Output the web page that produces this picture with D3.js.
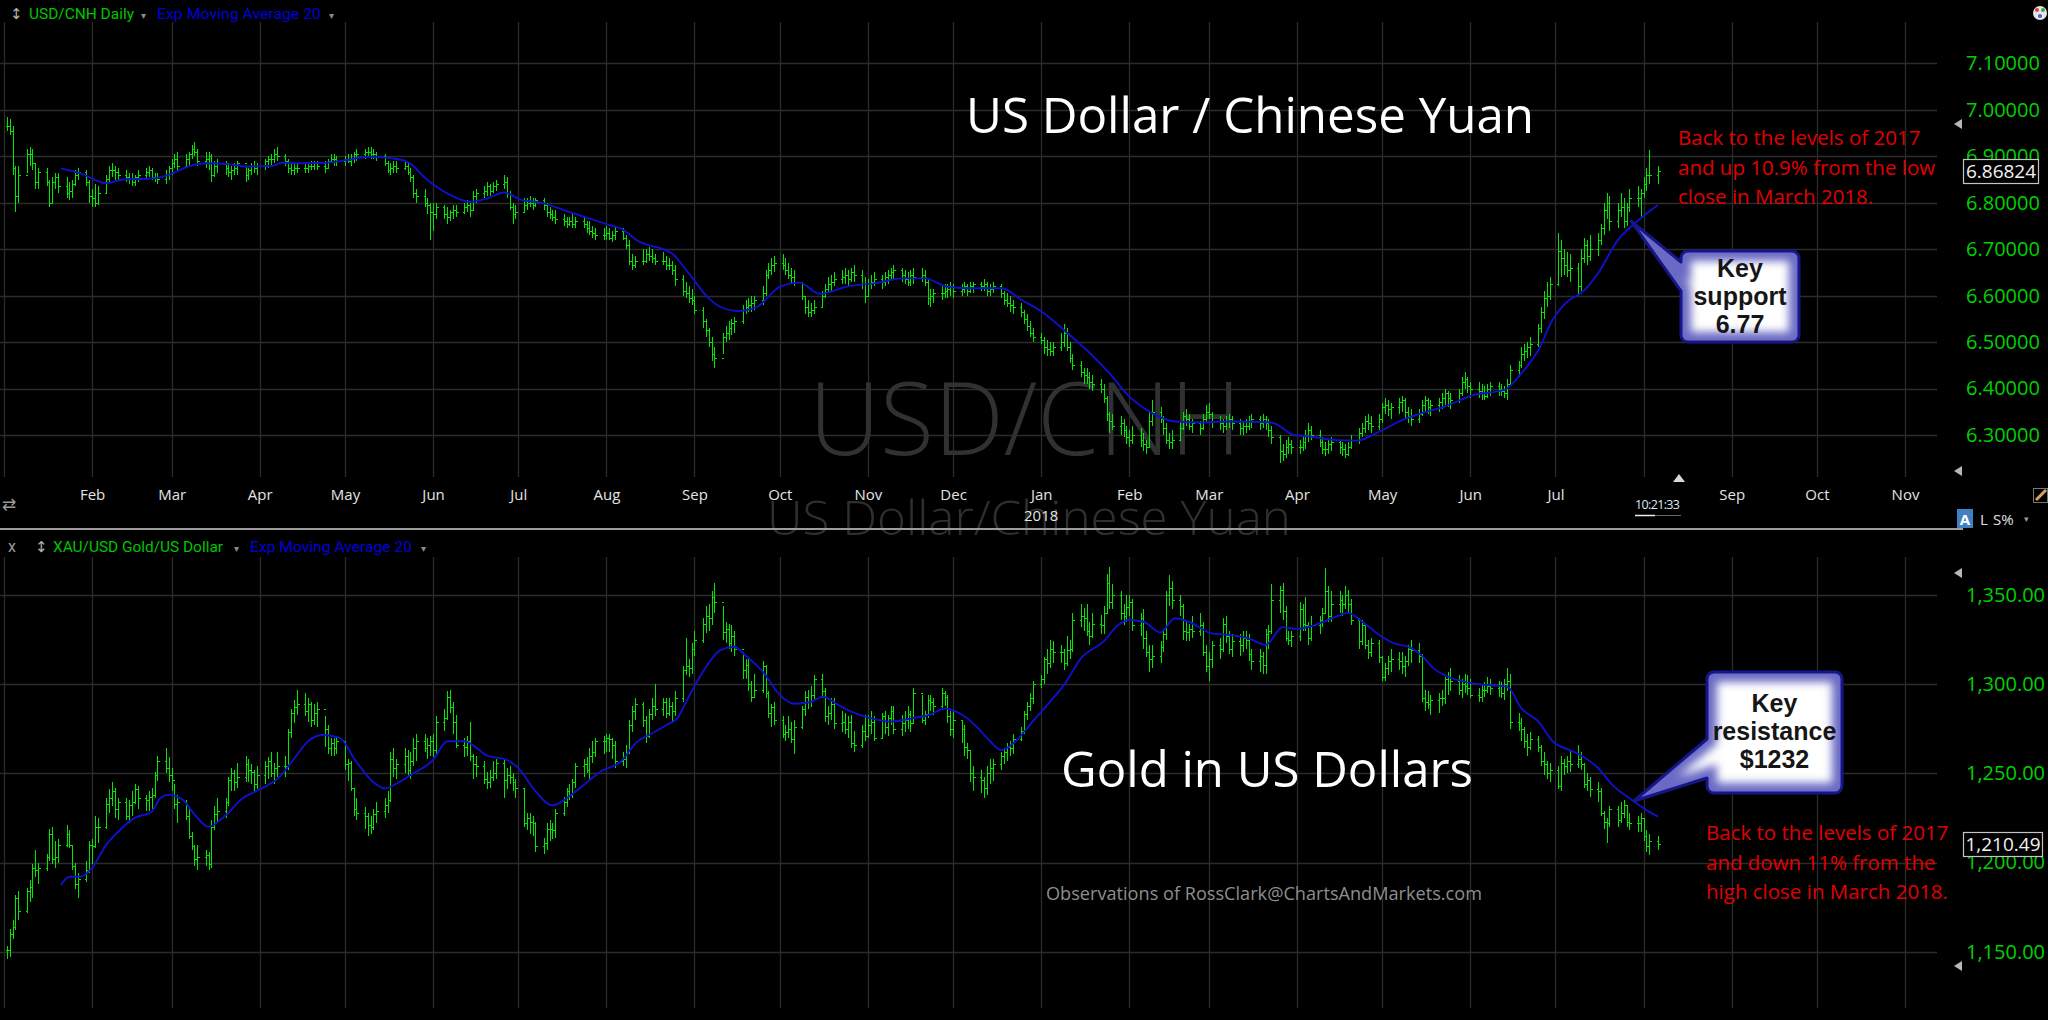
<!DOCTYPE html>
<html>
<head>
<meta charset="utf-8">
<script src="https://cdnjs.cloudflare.com/ajax/libs/d3/7.8.5/d3.min.js"></script>
<style>
html, body { margin: 0; padding: 0; background: #000; overflow: hidden; }
svg { display: block; }
</style>
</head>
<body>
<svg id="chart" width="2048" height="1020"></svg>
<script>

// daily bars, [high, low, close], one row per week (Mon..Fri), Jan 2 2017 .. Aug 6 2018
var usdBars = [
 [6.985,6.955,6.965],[6.98,6.945,6.955],[6.965,6.86,6.875],[6.88,6.78,6.815],[6.88,6.80,6.86],
 [6.915,6.865,6.905],[6.92,6.88,6.905],[6.915,6.87,6.885],[6.885,6.83,6.845],[6.875,6.83,6.865],
 [6.875,6.835,6.845],[6.85,6.79,6.80],[6.855,6.80,6.845],[6.865,6.83,6.855],[6.865,6.82,6.835],
 [6.855,6.81,6.82],[6.845,6.805,6.825],[6.85,6.81,6.84],[6.87,6.835,6.86],[6.875,6.85,6.865],
 [6.87,6.835,6.845],[6.85,6.80,6.815],[6.83,6.79,6.81],[6.84,6.79,6.80],[6.835,6.795,6.82],
 [6.86,6.82,6.85],[6.88,6.845,6.87],[6.885,6.855,6.87],[6.88,6.85,6.865],[6.875,6.85,6.86],
 [6.87,6.845,6.855],[6.865,6.84,6.85],[6.865,6.835,6.845],[6.86,6.835,6.855],[6.87,6.845,6.86],
 [6.875,6.85,6.865],[6.88,6.855,6.87],[6.875,6.85,6.855],[6.865,6.845,6.855],[6.865,6.84,6.85],
 [6.87,6.84,6.86],[6.88,6.85,6.875],[6.895,6.86,6.885],[6.905,6.875,6.895],[6.91,6.87,6.88],
 [6.905,6.875,6.895],[6.91,6.88,6.905],[6.925,6.895,6.915],[6.93,6.90,6.91],[6.915,6.88,6.89],
 [6.91,6.875,6.895],[6.91,6.87,6.90],[6.905,6.845,6.86],[6.89,6.855,6.88],[6.895,6.865,6.885],
 [6.89,6.86,6.875],[6.885,6.855,6.865],[6.88,6.85,6.87],[6.885,6.86,6.875],[6.89,6.86,6.885],
 [6.88,6.845,6.86],[6.875,6.85,6.87],[6.885,6.86,6.88],[6.89,6.865,6.875],[6.885,6.86,6.88],
 [6.895,6.87,6.89],[6.90,6.875,6.895],[6.905,6.88,6.895],[6.915,6.885,6.905],[6.92,6.89,6.90],
 [6.905,6.88,6.89],[6.895,6.865,6.875],[6.885,6.86,6.87],[6.885,6.86,6.875],[6.885,6.865,6.875],
 [6.885,6.865,6.875],[6.885,6.865,6.88],[6.89,6.87,6.88],[6.89,6.87,6.885],[6.89,6.87,6.88],
 [6.89,6.865,6.875],[6.895,6.875,6.89],[6.905,6.885,6.895],[6.905,6.88,6.895],[6.90,6.88,6.89],
 [6.90,6.88,6.895],[6.905,6.885,6.89],[6.905,6.88,6.895],[6.91,6.885,6.905],[6.915,6.89,6.905],
 [6.915,6.895,6.91],[6.92,6.90,6.91],[6.92,6.895,6.905],[6.915,6.895,6.905],[6.91,6.89,6.90],
 [6.905,6.88,6.885],[6.89,6.865,6.87],[6.885,6.86,6.875],[6.89,6.865,6.88],[6.89,6.865,6.875],
 [6.89,6.87,6.88],[6.885,6.86,6.865],[6.875,6.845,6.855],[6.86,6.81,6.82],[6.83,6.80,6.815],
 [6.83,6.79,6.80],[6.81,6.775,6.795],[6.80,6.72,6.78],[6.80,6.74,6.775],[6.80,6.765,6.79],
 [6.795,6.765,6.775],[6.79,6.755,6.77],[6.785,6.76,6.78],[6.795,6.765,6.785],[6.795,6.77,6.78],
 [6.80,6.775,6.79],[6.805,6.78,6.795],[6.80,6.77,6.785],[6.825,6.785,6.815],[6.83,6.80,6.82],
 [6.835,6.81,6.825],[6.845,6.815,6.835],[6.84,6.815,6.825],[6.845,6.82,6.835],[6.85,6.825,6.84],
 [6.86,6.83,6.845],[6.855,6.81,6.82],[6.825,6.785,6.79],[6.80,6.755,6.775],[6.795,6.765,6.78],
 [6.81,6.78,6.795],[6.81,6.785,6.80],[6.815,6.79,6.80],[6.81,6.785,6.795],[6.81,6.79,6.805],
 [6.81,6.785,6.795],[6.80,6.77,6.78],[6.79,6.765,6.775],[6.785,6.76,6.77],[6.785,6.755,6.765],
 [6.775,6.75,6.76],[6.77,6.745,6.755],[6.77,6.75,6.76],[6.775,6.745,6.755],[6.77,6.745,6.76],
 [6.77,6.745,6.755],[6.76,6.735,6.745],[6.76,6.73,6.74],[6.75,6.725,6.735],[6.745,6.72,6.73],
 [6.745,6.72,6.73],[6.75,6.72,6.735],[6.745,6.72,6.725],[6.74,6.715,6.73],[6.75,6.72,6.74],
 [6.745,6.72,6.725],[6.73,6.70,6.71],[6.72,6.665,6.675],[6.69,6.655,6.665],[6.685,6.66,6.675],
 [6.70,6.665,6.675],[6.70,6.67,6.69],[6.705,6.675,6.685],[6.70,6.67,6.68],[6.69,6.665,6.675],
 [6.695,6.665,6.675],[6.685,6.655,6.665],[6.68,6.655,6.665],[6.675,6.645,6.655],[6.665,6.62,6.635],
 [6.645,6.60,6.61],[6.63,6.595,6.605],[6.62,6.585,6.595],[6.615,6.58,6.59],[6.60,6.56,6.57],
 [6.575,6.53,6.545],[6.55,6.51,6.525],[6.53,6.49,6.50],[6.51,6.46,6.475],[6.49,6.444,6.465],
 [6.52,6.475,6.51],[6.535,6.50,6.52],[6.545,6.505,6.53],[6.55,6.515,6.54],[6.555,6.52,6.545],
 [6.58,6.54,6.57],[6.59,6.56,6.575],[6.595,6.565,6.58],[6.60,6.565,6.585],[6.60,6.57,6.59],
 [6.62,6.58,6.605],[6.655,6.60,6.645],[6.67,6.635,6.655],[6.68,6.645,6.665],[6.685,6.65,6.67],
 [6.69,6.655,6.665],[6.68,6.645,6.655],[6.67,6.635,6.645],[6.66,6.625,6.64],[6.655,6.62,6.63],
 [6.63,6.59,6.60],[6.60,6.56,6.575],[6.59,6.555,6.565],[6.585,6.555,6.57],[6.59,6.56,6.575],
 [6.61,6.575,6.60],[6.625,6.595,6.615],[6.64,6.605,6.625],[6.645,6.61,6.63],[6.65,6.62,6.635],
 [6.655,6.625,6.64],[6.66,6.625,6.645],[6.655,6.62,6.635],[6.66,6.63,6.65],[6.665,6.63,6.645],
 [6.655,6.615,6.625],[6.64,6.585,6.60],[6.635,6.60,6.625],[6.645,6.615,6.63],[6.65,6.62,6.635],
 [6.645,6.615,6.63],[6.65,6.62,6.64],[6.655,6.625,6.645],[6.66,6.635,6.65],[6.665,6.635,6.655],
 [6.66,6.63,6.645],[6.655,6.625,6.635],[6.65,6.62,6.63],[6.655,6.62,6.645],[6.66,6.625,6.64],
 [6.66,6.63,6.645],[6.655,6.62,6.63],[6.635,6.58,6.595],[6.615,6.575,6.60],[6.615,6.585,6.605],
 [6.62,6.59,6.605],[6.625,6.595,6.61],[6.625,6.595,6.615],[6.63,6.60,6.62],[6.625,6.595,6.61],
 [6.625,6.60,6.615],[6.63,6.605,6.62],[6.625,6.60,6.61],[6.63,6.605,6.62],[6.63,6.605,6.625],
 [6.63,6.61,6.62],[6.635,6.61,6.625],[6.63,6.60,6.61],[6.625,6.60,6.615],[6.63,6.605,6.62],
 [6.625,6.595,6.605],[6.61,6.58,6.59],[6.605,6.575,6.585],[6.60,6.565,6.58],[6.59,6.56,6.575],
 [6.585,6.555,6.565],[6.57,6.54,6.55],[6.56,6.525,6.535],[6.545,6.51,6.52],[6.53,6.50,6.51],
 [6.52,6.495,6.505],[6.51,6.475,6.49],[6.505,6.47,6.485],[6.50,6.47,6.48],[6.50,6.47,6.49],
 [6.52,6.48,6.50],[6.54,6.49,6.52],[6.53,6.48,6.49],[6.50,6.455,6.465],[6.475,6.44,6.45],
 [6.46,6.425,6.435],[6.445,6.41,6.43],[6.445,6.41,6.425],[6.435,6.40,6.415],[6.43,6.395,6.41],
 [6.42,6.39,6.40],[6.41,6.37,6.38],[6.385,6.33,6.345],[6.35,6.305,6.33],[6.345,6.31,6.32],
 [6.34,6.30,6.325],[6.335,6.295,6.31],[6.32,6.28,6.295],[6.31,6.275,6.29],[6.32,6.28,6.30],
 [6.315,6.275,6.29],[6.305,6.265,6.28],[6.29,6.26,6.275],[6.35,6.275,6.33],[6.375,6.32,6.35],
 [6.36,6.325,6.335],[6.34,6.30,6.315],[6.325,6.28,6.29],[6.305,6.27,6.285],[6.31,6.27,6.29],
 [6.33,6.29,6.315],[6.35,6.31,6.34],[6.355,6.32,6.335],[6.345,6.31,6.32],[6.335,6.305,6.325],
 [6.33,6.30,6.315],[6.345,6.31,6.335],[6.365,6.325,6.35],[6.37,6.335,6.345],[6.35,6.315,6.33],
 [6.34,6.31,6.325],[6.335,6.305,6.32],[6.34,6.31,6.33],[6.345,6.315,6.335],[6.34,6.31,6.325],
 [6.335,6.30,6.315],[6.33,6.30,6.32],[6.335,6.305,6.32],[6.34,6.31,6.33],[6.345,6.315,6.335],
 [6.34,6.31,6.325],[6.345,6.315,6.335],[6.34,6.31,6.325],[6.335,6.295,6.31],[6.32,6.28,6.295],
 [6.30,6.24,6.265],[6.28,6.245,6.26],[6.29,6.25,6.275],[6.295,6.26,6.28],[6.29,6.26,6.275],
 [6.29,6.26,6.275],[6.295,6.265,6.285],[6.31,6.27,6.30],[6.325,6.285,6.31],[6.32,6.29,6.30],
 [6.31,6.275,6.285],[6.295,6.26,6.27],[6.285,6.255,6.27],[6.29,6.26,6.28],[6.295,6.265,6.285],
 [6.29,6.26,6.275],[6.285,6.255,6.27],[6.28,6.25,6.26],[6.285,6.255,6.275],[6.30,6.27,6.29],
 [6.315,6.28,6.305],[6.325,6.295,6.315],[6.34,6.305,6.33],[6.345,6.31,6.325],[6.34,6.305,6.32],
 [6.345,6.31,6.335],[6.37,6.325,6.36],[6.38,6.345,6.365],[6.375,6.34,6.355],[6.37,6.335,6.36],
 [6.38,6.345,6.37],[6.385,6.35,6.375],[6.38,6.335,6.35],[6.36,6.325,6.34],[6.355,6.32,6.335],
 [6.355,6.325,6.345],[6.375,6.34,6.365],[6.385,6.35,6.375],[6.38,6.345,6.36],[6.375,6.34,6.365],
 [6.38,6.35,6.37],[6.39,6.355,6.38],[6.40,6.365,6.39],[6.395,6.36,6.38],[6.39,6.355,6.375],
 [6.40,6.37,6.39],[6.425,6.385,6.415],[6.435,6.40,6.42],[6.425,6.39,6.405],[6.415,6.38,6.40],
 [6.415,6.38,6.395],[6.41,6.375,6.39],[6.405,6.375,6.385],[6.41,6.38,6.40],[6.415,6.385,6.405],
 [6.415,6.385,6.40],[6.41,6.385,6.395],[6.405,6.38,6.39],[6.42,6.375,6.41],[6.45,6.405,6.44],
 [6.46,6.425,6.45],[6.49,6.445,6.475],[6.495,6.46,6.48],[6.50,6.465,6.49],[6.51,6.47,6.495],
 [6.54,6.49,6.53],[6.575,6.52,6.565],[6.61,6.55,6.595],[6.63,6.575,6.60],[6.64,6.59,6.625],
 [6.735,6.62,6.695],[6.72,6.64,6.68],[6.70,6.645,6.665],[6.695,6.64,6.655],[6.69,6.63,6.66],
 [6.67,6.60,6.62],[6.70,6.61,6.68],[6.725,6.67,6.71],[6.72,6.665,6.685],[6.73,6.675,6.70],
 [6.735,6.685,6.72],[6.755,6.71,6.745],[6.80,6.73,6.785],[6.82,6.765,6.80],[6.815,6.74,6.76],
 [6.80,6.745,6.785],[6.82,6.77,6.79],[6.81,6.745,6.76],[6.80,6.75,6.79],[6.83,6.78,6.81],
 [6.835,6.79,6.81],[6.83,6.77,6.82],[6.855,6.81,6.84],[6.875,6.825,6.86],[6.913,6.84,6.86],
 [6.88,6.84,6.86824]
];

var goldBars = [
 [1153,1146,1151],[1163,1147,1160],[1168,1157,1164],[1182,1162,1180],[1184,1168,1173],
 [1186,1172,1184],[1190,1178,1186],[1199,1180,1197],[1207,1192,1196],[1200,1188,1197],
 [1205,1195,1203],[1219,1201,1216],[1220,1199,1202],[1212,1197,1203],[1213,1200,1210],
 [1221,1209,1216],[1218,1208,1210],[1210,1196,1198],[1200,1185,1188],[1194,1180,1191],
 [1201,1189,1196],[1212,1194,1210],[1213,1199,1209],[1226,1208,1220],[1225,1211,1220],
 [1236,1219,1233],[1241,1228,1236],[1245,1232,1240],[1242,1225,1230],[1236,1224,1234],
 [1236,1224,1226],[1235,1222,1232],[1240,1226,1234],[1244,1233,1241],[1243,1230,1236],
 [1238,1229,1235],[1240,1229,1237],[1242,1230,1238],[1251,1236,1249],[1260,1246,1257],
 [1264,1250,1253],[1259,1245,1249],[1253,1240,1246],[1244,1230,1233],[1238,1222,1234],
 [1235,1224,1226],[1230,1213,1215],[1217,1207,1209],[1210,1198,1202],[1210,1196,1203],
 [1207,1198,1204],[1206,1196,1199],[1224,1197,1220],[1232,1218,1227],[1236,1223,1229],
 [1236,1225,1234],[1248,1232,1246],[1253,1240,1250],[1252,1240,1245],[1256,1242,1248],
 [1260,1245,1255],[1258,1245,1252],[1255,1244,1251],[1252,1240,1244],[1254,1241,1249],
 [1257,1244,1254],[1259,1247,1257],[1262,1248,1250],[1256,1244,1253],[1262,1248,1254],
 [1260,1248,1254],[1275,1252,1273],[1286,1270,1284],[1291,1278,1287],[1297,1283,1289],
 [1295,1282,1285],[1292,1279,1289],[1290,1276,1280],[1289,1277,1284],[1290,1276,1286],
 [1282,1265,1275],[1277,1261,1264],[1270,1260,1267],[1270,1260,1264],[1271,1261,1268],
 [1268,1252,1255],[1258,1246,1256],[1257,1240,1242],[1242,1226,1230],[1236,1224,1228],
 [1231,1219,1226],[1228,1215,1221],[1226,1216,1220],[1230,1218,1227],[1234,1222,1229],
 [1236,1225,1232],[1240,1228,1235],[1262,1234,1258],[1264,1248,1253],[1258,1247,1255],
 [1264,1250,1260],[1263,1248,1252],[1262,1247,1257],[1270,1254,1264],[1272,1257,1268],
 [1272,1262,1264],[1270,1258,1266],[1271,1260,1268],[1272,1259,1263],[1282,1261,1279],
 [1286,1274,1281],[1296,1280,1293],[1297,1284,1287],[1290,1272,1279],[1283,1264,1266],
 [1270,1259,1265],[1271,1260,1268],[1279,1257,1260],[1261,1247,1255],[1260,1248,1254],
 [1257,1244,1247],[1251,1241,1245],[1252,1242,1248],[1257,1246,1250],[1258,1247,1256],
 [1258,1236,1246],[1253,1241,1249],[1254,1244,1248],[1250,1240,1245],[1247,1236,1242],
 [1242,1220,1222],[1228,1218,1225],[1228,1216,1223],[1226,1215,1222],[1223,1206,1209],
 [1214,1205,1211],[1222,1207,1219],[1224,1212,1219],[1222,1213,1218],[1230,1214,1228],
 [1237,1226,1234],[1242,1231,1240],[1244,1235,1238],[1247,1236,1245],[1256,1242,1254],
 [1258,1248,1255],[1259,1250,1252],[1264,1247,1260],[1268,1256,1262],[1270,1259,1268],
 [1271,1261,1268],[1272,1262,1270],[1272,1262,1269],[1270,1258,1266],[1268,1253,1257],
 [1262,1254,1258],[1266,1253,1262],[1280,1261,1277],[1288,1273,1285],[1292,1280,1289],
 [1290,1276,1280],[1282,1267,1271],[1286,1270,1283],[1292,1280,1288],[1300,1282,1286],
 [1292,1282,1290],[1292,1281,1284],[1292,1282,1288],[1290,1279,1285],[1296,1282,1292],
 [1310,1290,1308],[1326,1305,1310],[1314,1304,1309],[1323,1306,1320],[1330,1316,1325],
 [1337,1323,1334],[1344,1329,1338],[1345,1330,1337],[1352,1333,1349],[1357,1340,1346],
 [1344,1325,1329],[1335,1323,1331],[1334,1320,1323],[1333,1318,1327],[1330,1316,1320],
 [1318,1303,1308],[1314,1303,1311],[1314,1296,1300],[1302,1290,1293],[1306,1292,1297],
 [1313,1295,1310],[1311,1292,1295],[1296,1281,1284],[1289,1276,1287],[1290,1277,1280],
 [1282,1270,1272],[1277,1268,1273],[1282,1270,1275],[1279,1267,1269],[1280,1261,1276],
 [1288,1275,1286],[1296,1282,1293],[1297,1286,1290],[1299,1287,1294],[1305,1291,1303],
 [1306,1292,1296],[1298,1279,1282],[1288,1277,1284],[1292,1280,1289],[1292,1275,1278],
 [1285,1273,1279],[1284,1272,1275],[1282,1270,1279],[1283,1264,1267],[1274,1262,1266],
 [1277,1264,1274],[1283,1268,1271],[1283,1270,1277],[1285,1272,1279],[1282,1268,1270],
 [1284,1270,1282],[1285,1272,1276],[1283,1271,1281],[1288,1277,1285],[1288,1272,1275],
 [1283,1271,1278],[1285,1273,1280],[1288,1275,1283],[1285,1273,1278],[1298,1278,1295],
 [1294,1278,1280],[1285,1277,1283],[1294,1281,1291],[1294,1285,1290],[1292,1283,1288],
 [1298,1286,1295],[1296,1288,1293],[1294,1278,1282],[1285,1271,1275],[1285,1270,1280],
 [1280,1267,1275],[1277,1260,1265],[1267,1258,1263],[1263,1245,1250],[1254,1240,1248],
 [1252,1239,1246],[1248,1236,1242],[1254,1238,1250],[1258,1244,1253],[1258,1246,1255],
 [1262,1252,1260],[1264,1255,1262],[1267,1257,1265],[1268,1260,1264],[1272,1261,1269],
 [1276,1268,1274],[1285,1272,1283],[1290,1280,1288],[1295,1285,1292],[1302,1289,1300],
 [1305,1298,1303],[1315,1300,1314],[1320,1306,1312],[1325,1309,1320],[1324,1312,1318],
 [1322,1312,1318],[1320,1308,1312],[1327,1310,1319],[1325,1314,1320],[1340,1318,1336],
 [1345,1332,1338],[1343,1330,1337],[1345,1327,1330],[1335,1322,1327],[1340,1326,1334],
 [1339,1328,1333],[1344,1328,1340],[1362,1340,1357],[1366,1342,1346],[1356,1342,1350],
 [1352,1336,1340],[1345,1333,1338],[1350,1335,1343],[1350,1338,1346],[1348,1330,1333],
 [1340,1327,1337],[1342,1320,1326],[1330,1315,1318],[1322,1307,1314],[1322,1309,1316],
 [1324,1312,1321],[1331,1318,1328],[1352,1325,1350],[1361,1344,1354],[1358,1342,1347],
 [1350,1338,1344],[1345,1325,1330],[1335,1324,1329],[1334,1324,1331],[1338,1326,1330],
 [1340,1327,1333],[1335,1316,1318],[1322,1307,1310],[1318,1302,1314],[1324,1309,1322],
 [1326,1314,1320],[1337,1318,1334],[1338,1323,1327],[1330,1317,1320],[1328,1315,1324],
 [1328,1316,1322],[1330,1318,1326],[1330,1320,1325],[1328,1313,1317],[1320,1308,1313],
 [1320,1307,1316],[1318,1306,1311],[1331,1306,1328],[1333,1320,1330],[1356,1328,1347],
 [1355,1340,1353],[1357,1336,1341],[1344,1324,1326],[1330,1322,1325],[1330,1321,1327],
 [1346,1324,1342],[1345,1330,1334],[1349,1330,1333],[1335,1322,1326],[1338,1324,1333],
 [1338,1328,1336],[1343,1332,1340],[1365,1340,1352],[1355,1335,1338],[1352,1335,1345],
 [1352,1340,1347],[1350,1338,1345],[1355,1342,1350],[1353,1340,1345],[1348,1333,1336],
 [1337,1320,1324],[1336,1322,1333],[1333,1320,1322],[1325,1314,1318],[1326,1315,1323],
 [1325,1312,1315],[1316,1302,1304],[1312,1302,1309],[1316,1305,1313],[1320,1307,1314],
 [1318,1308,1313],[1318,1306,1310],[1316,1304,1313],[1322,1310,1320],[1325,1312,1319],
 [1323,1312,1316],[1317,1290,1292],[1297,1285,1290],[1296,1286,1289],[1294,1283,1291],
 [1295,1284,1292],[1297,1288,1292],[1304,1289,1303],[1307,1294,1304],[1309,1296,1302],
 [1305,1294,1297],[1303,1292,1300],[1306,1295,1299],[1305,1294,1298],[1303,1292,1294],
 [1298,1290,1293],[1300,1290,1297],[1301,1293,1297],[1304,1295,1299],[1303,1294,1298],
 [1302,1293,1299],[1301,1292,1295],[1303,1291,1300],[1309,1296,1302],[1306,1275,1279],
 [1284,1274,1278],[1281,1268,1275],[1276,1264,1268],[1272,1260,1265],[1273,1263,1269],
 [1271,1262,1265],[1266,1254,1257],[1262,1249,1255],[1257,1247,1250],[1256,1245,1252],
 [1254,1241,1243],[1260,1240,1256],[1258,1249,1254],[1260,1250,1257],[1263,1251,1255],
 [1266,1253,1258],[1262,1252,1255],[1256,1242,1244],[1250,1240,1246],[1248,1237,1241],
 [1245,1234,1240],[1242,1226,1228],[1229,1219,1223],[1225,1211,1222],[1232,1220,1230],
 [1232,1220,1224],[1234,1222,1228],[1235,1225,1232],[1232,1220,1223],[1228,1218,1222],
 [1226,1217,1222],[1228,1217,1225],[1225,1212,1215],[1218,1206,1209],[1216,1204,1212],
 [1215,1207,1210.49]
];

// 20 day exponential moving average
var usdEma = [
 ["2017-01-21",6.874],["2017-01-28",6.863],["2017-02-06",6.842],["2017-02-12",6.850],["2017-02-22",6.852],
 ["2017-02-28",6.860],["2017-03-07",6.878],["2017-03-13",6.885],["2017-03-21",6.883],["2017-03-28",6.878],
 ["2017-04-05",6.879],["2017-04-09",6.886],["2017-04-16",6.885],["2017-04-24",6.886],["2017-05-02",6.892],
 ["2017-05-09",6.899],["2017-05-17",6.896],["2017-05-23",6.888],["2017-05-30",6.849],["2017-06-07",6.817],
 ["2017-06-14",6.802],["2017-06-20",6.809],["2017-06-26",6.822],["2017-07-02",6.806],["2017-07-09",6.800],
 ["2017-07-17",6.784],["2017-07-24",6.770],["2017-08-01",6.754],["2017-08-07",6.741],["2017-08-12",6.718],
 ["2017-08-24",6.691],["2017-08-30",6.648],["2017-09-06",6.594],["2017-09-10",6.576],["2017-09-16",6.567],
 ["2017-09-23",6.576],["2017-10-01",6.619],["2017-10-08",6.628],["2017-10-15",6.604],["2017-10-25",6.620],
 ["2017-11-04",6.627],["2017-11-13",6.637],["2017-11-21",6.637],["2017-11-29",6.619],["2017-12-06",6.616],
 ["2017-12-18",6.616],["2017-12-25",6.591],["2018-01-02",6.562],["2018-01-09",6.526],["2018-01-17",6.483],
 ["2018-01-25",6.433],["2018-02-01",6.383],["2018-02-09",6.347],["2018-02-17",6.329],["2018-02-26",6.327],
 ["2018-03-08",6.329],["2018-03-23",6.327],["2018-03-31",6.300],["2018-04-05",6.297],["2018-04-15",6.289],
 ["2018-04-22",6.288],["2018-04-30",6.307],["2018-05-08",6.332],["2018-05-15",6.347],["2018-05-23",6.361],
 ["2018-06-02",6.386],["2018-06-13",6.397],["2018-06-19",6.433],["2018-06-25",6.483],["2018-06-30",6.548],
 ["2018-07-06",6.591],["2018-07-10",6.605],["2018-07-16",6.648],["2018-07-23",6.720],["2018-07-29",6.756],
 ["2018-08-06",6.795]
];

var goldEma = [
 ["2017-01-21",1187.4],["2017-01-24",1192],["2017-01-28",1192],["2017-02-01",1197],["2017-02-06",1210],
 ["2017-02-10",1217],["2017-02-16",1225],["2017-02-22",1228.5],["2017-02-25",1236],["2017-02-28",1238],
 ["2017-03-05",1235],["2017-03-09",1227],["2017-03-14",1220],["2017-03-19",1225],["2017-03-26",1236],
 ["2017-04-01",1241],["2017-04-08",1248],["2017-04-13",1258],["2017-04-18",1268],["2017-04-23",1271.5],
 ["2017-04-29",1270],["2017-05-05",1256.5],["2017-05-11",1245],["2017-05-15",1241.6],["2017-05-20",1245],
 ["2017-05-24",1249],["2017-06-01",1257.5],["2017-06-06",1268],["2017-06-12",1268],["2017-06-20",1260],
 ["2017-06-27",1257.5],["2017-07-01",1253],["2017-07-07",1240],["2017-07-13",1232],["2017-07-18",1236],
 ["2017-07-24",1243.5],["2017-07-30",1251],["2017-08-06",1256.5],["2017-08-12",1268],["2017-08-16",1271.5],
 ["2017-08-22",1277],["2017-08-26",1281],["2017-08-29",1290],["2017-09-04",1307],["2017-09-10",1319],
 ["2017-09-15",1321],["2017-09-19",1316],["2017-09-25",1307],["2017-10-01",1294],["2017-10-06",1289],
 ["2017-10-12",1290],["2017-10-16",1293],["2017-10-22",1288],["2017-10-25",1285.5],["2017-11-02",1281],
 ["2017-11-09",1279],["2017-11-17",1281],["2017-11-23",1283],["2017-11-28",1286.4],["2017-12-04",1283],
 ["2017-12-10",1275],["2017-12-14",1268],["2017-12-18",1263],["2017-12-23",1268],["2017-12-29",1279],
 ["2018-01-04",1290],["2018-01-09",1299.5],["2018-01-15",1314.5],["2018-01-23",1324],["2018-01-28",1333],
 ["2018-02-01",1336],["2018-02-06",1335],["2018-02-12",1329],["2018-02-17",1337],["2018-02-22",1335],
 ["2018-03-02",1328.5],["2018-03-08",1327.6],["2018-03-15",1325.7],["2018-03-21",1322],["2018-03-27",1332],
 ["2018-04-01",1331],["2018-04-07",1333],["2018-04-15",1338],["2018-04-19",1340],["2018-04-24",1335],
 ["2018-04-30",1327.6],["2018-05-05",1323],["2018-05-11",1320.5],["2018-05-15",1316],["2018-05-19",1309],
 ["2018-05-23",1305],["2018-05-31",1301],["2018-06-07",1299.5],["2018-06-14",1298.6],["2018-06-19",1286.4],
 ["2018-06-25",1279],["2018-06-30",1268],["2018-07-06",1263],["2018-07-10",1260],["2018-07-16",1253],
 ["2018-07-21",1243.5],["2018-07-27",1236],["2018-08-02",1229.4],["2018-08-06",1225.7]
];

var usdTicks = [6.3, 6.4, 6.5, 6.6, 6.7, 6.8, 6.9, 7.0, 7.1];
var goldTicks = [1150, 1200, 1250, 1300, 1350];

var usdNote = ["Back to the levels of 2017", "and up 10.9% from the low", "close in March 2018."];
var goldNote = ["Back to the levels of 2017", "and down 11% from the", "high close in March 2018."];


var FONT = "'Open Sans', 'Noto Sans', sans-serif";
var parse = d3.utcParse("%Y-%m-%d");
var svg = d3.select("#chart");
var defs = svg.append("defs");

svg.append("rect").attr("width", 2048).attr("height", 1020).attr("fill", "#000");

var tradingDays = d3.utcDay.range(new Date(Date.UTC(2017, 0, 2)), new Date(Date.UTC(2018, 7, 7)))
    .filter(function(d){ var w = d.getUTCDay(); return w > 0 && w < 6; });

var x = d3.scaleUtc()
    .domain([new Date(Date.UTC(2017, 0, 1)), new Date(Date.UTC(2018, 10, 1))])
    .range([4, 1905]);
var yTop = d3.scaleLinear().domain([6.3, 7.1]).range([435, 63.3]);
var yBot = d3.scaleLinear().domain([1150, 1350]).range([951.7, 595]);

var months = d3.utcMonth.range(new Date(Date.UTC(2017, 0, 1)), new Date(Date.UTC(2018, 10, 2)));

// grid
[[yTop, usdTicks, 22, 477], [yBot, goldTicks, 557, 1008]].forEach(function(p){
    var g = svg.append("g").attr("stroke", "#2c2c2c").attr("stroke-width", 1.3);
    g.selectAll("line.v").data(months).join("line").attr("class", "v")
        .attr("x1", function(d){ return Math.round(x(d)) + 0.5; })
        .attr("x2", function(d){ return Math.round(x(d)) + 0.5; })
        .attr("y1", p[2]).attr("y2", p[3]);
    g.selectAll("line.h").data(p[1]).join("line").attr("class", "h")
        .attr("x1", 0).attr("x2", 1937)
        .attr("y1", function(d){ return Math.round(p[0](d)) + 0.5; })
        .attr("y2", function(d){ return Math.round(p[0](d)) + 0.5; });
});

// watermarks
svg.append("text").attr("x", 809).attr("y", 455).attr("font-family", FONT).attr("font-weight", 300)
    .attr("font-size", 101).attr("fill", "#313131").attr("textLength", 432).attr("lengthAdjust", "spacingAndGlyphs")
    .text("USD/CNH");
svg.append("text").attr("x", 767).attr("y", 535).attr("font-family", FONT).attr("font-weight", 300)
    .attr("font-size", 47).attr("fill", "#2f2f2f").attr("textLength", 524).attr("lengthAdjust", "spacingAndGlyphs")
    .text("US Dollar/Chinese Yuan");

// OHLC bars, open tick at the previous close
function drawBars(bars, y) {
    var rows = bars.slice(0, tradingDays.length).map(function(b, i){
        return { date: tradingDays[i], hi: b[0], lo: b[1], cl: b[2], op: i ? bars[i - 1][2] : b[2] };
    });
    svg.append("g").attr("stroke", "#00e800").attr("stroke-width", 1).attr("fill", "none")
        .attr("shape-rendering", "crispEdges")
        .selectAll("path").data(rows).join("path")
        .attr("d", function(d){
            var px = Math.round(x(d.date)) + 0.5;
            var yo = Math.round(y(d.op)) + 0.5, yc = Math.round(y(d.cl)) + 0.5;
            return "M" + px + "," + y(d.hi).toFixed(1) + "V" + y(d.lo).toFixed(1) +
                "M" + (px - 2) + "," + yo + "H" + px + "M" + px + "," + yc + "H" + (px + 2);
        });
}
drawBars(usdBars, yTop);
drawBars(goldBars, yBot);

function drawEma(data, y) {
    var line = d3.line()
        .x(function(d){ return x(parse(d[0])); })
        .y(function(d){ return y(d[1]); })
        .curve(d3.curveMonotoneX);
    svg.append("path").datum(data).attr("d", line)
        .attr("fill", "none").attr("stroke", "#1010cc").attr("stroke-width", 1.9);
}
drawEma(usdEma, yTop);
drawEma(goldEma, yBot);

// price axes
function priceAxis(y, ticks, fmt) {
    var g = svg.append("g").attr("transform", "translate(1966,0)")
        .call(d3.axisRight(y).tickValues(ticks).tickFormat(fmt).tickSize(0).tickPadding(0));
    g.select(".domain").remove();
    g.attr("font-family", FONT).attr("font-size", 20).style("color", "#00d000");
}
priceAxis(yTop, usdTicks, d3.format(".5f"));
priceAxis(yBot, goldTicks, d3.format(",.2f"));

// month axis (Jan 2017 sits on the edge, Aug 2018 is under the clock)
var labelMonths = months.filter(function(d, i){
    return i > 0 && !(d.getUTCFullYear() === 2018 && d.getUTCMonth() === 7);
});
var mAxis = svg.append("g").attr("transform", "translate(0,477)")
    .call(d3.axisBottom(x).tickValues(labelMonths).tickFormat(d3.utcFormat("%b")).tickSize(0).tickPadding(12));
mAxis.select(".domain").remove();
mAxis.attr("font-family", FONT).attr("font-size", 15).style("color", "#e4e4e4");
svg.append("text").attr("x", x(new Date(Date.UTC(2018, 0, 1)))).attr("y", 521).attr("text-anchor", "middle")
    .attr("font-family", FONT).attr("font-size", 15).attr("fill", "#e4e4e4").text("2018");

// clock
svg.append("text").attr("x", 1635).attr("y", 509).attr("font-family", FONT).attr("font-size", 12.5)
    .attr("fill", "#dfe6f5").attr("textLength", 45).text("10:21:33");
svg.append("line").attr("x1", 1635).attr("x2", 1655).attr("y1", 515.5).attr("y2", 515.5).attr("stroke", "#eee").attr("stroke-width", 1.5);
svg.append("line").attr("x1", 1655).attr("x2", 1681).attr("y1", 515.5).attr("y2", 515.5).attr("stroke", "#666").attr("stroke-width", 1);
svg.append("path").attr("d", "M1673,482L1679,474L1685,482Z").attr("fill", "#d8d8d8");

// separator
svg.append("line").attr("x1", 0).attr("x2", 1963).attr("y1", 529).attr("y2", 529)
    .attr("stroke", "#9c9c9c").attr("stroke-width", 2);

// side markers
[124, 471, 573, 966].forEach(function(yy){
    svg.append("path").attr("d", "M1962," + (yy - 5) + "L1954," + yy + "L1962," + (yy + 5) + "Z").attr("fill", "#b8b8b8");
});

// last value boxes
function lastBox(bars, y, fmt, w) {
    var v = bars[bars.length - 1][2], cy = y(v);
    svg.append("rect").attr("x", 1963.5).attr("y", Math.round(cy - 12) + 0.5).attr("width", w).attr("height", 24)
        .attr("fill", "#000").attr("stroke", "#c4c4c4").attr("stroke-width", 1.2);
    svg.append("text").attr("x", 1963.5 + w / 2).attr("y", cy + 7).attr("text-anchor", "middle")
        .attr("font-family", FONT).attr("font-size", 19).attr("fill", "#f2f2f2").text(fmt(v));
}
lastBox(usdBars, yTop, d3.format(".5f"), 75);
lastBox(goldBars, yBot, d3.format(",.2f"), 79);

// headers
function header(yy, items) {
    items.forEach(function(it){
        var t = svg.append("text").attr("x", it[0]).attr("y", yy).attr("font-family", it[4] || "Roboto, " + FONT)
            .attr("font-size", it[3]).attr("fill", it[2]).text(it[1]);
        if (it[5]) t.attr("textLength", it[5]).attr("lengthAdjust", "spacingAndGlyphs");
    });
}
header(19, [
    [10, "\u2195", "#b0b0b0", 15, "'DejaVu Sans'"],
    [29, "USD/CNH Daily", "#00c400", 15.5, null, 105],
    [141, "\u25BE", "#8a8a8a", 10, "'DejaVu Sans'"],
    [157, "Exp Moving Average 20", "#0000d8", 15, null, 164],
    [329, "\u25BE", "#8a8a8a", 10, "'DejaVu Sans'"]
]);
header(552, [
    [8, "x", "#999", 16],
    [35, "\u2195", "#b0b0b0", 15, "'DejaVu Sans'"],
    [53, "XAU/USD Gold/US Dollar", "#00c400", 15.2, null, 170],
    [234, "\u25BE", "#8a8a8a", 10, "'DejaVu Sans'"],
    [250, "Exp Moving Average 20", "#0000d8", 14.8, null, 162],
    [421, "\u25BE", "#8a8a8a", 10, "'DejaVu Sans'"]
]);

// right side widgets
svg.append("rect").attr("x", 1957).attr("y", 509).attr("width", 16).attr("height", 19).attr("fill", "#3f80c2");
svg.append("text").attr("x", 1965).attr("y", 524.5).attr("text-anchor", "middle").attr("font-family", FONT)
    .attr("font-weight", 700).attr("font-size", 15).attr("fill", "#fff").text("A");
svg.append("text").attr("x", 1980).attr("y", 524.5).attr("font-family", FONT).attr("font-size", 15).attr("fill", "#e0e0e0").text("L");
svg.append("text").attr("x", 1993).attr("y", 524.5).attr("font-family", FONT).attr("font-size", 15).attr("fill", "#e0e0e0").text("S%");
svg.append("text").attr("x", 2024).attr("y", 522).attr("font-family", "'DejaVu Sans'").attr("font-size", 9).attr("fill", "#999").text("\u25BE");
svg.append("rect").attr("x", 2033.5).attr("y", 488.5).attr("width", 14).attr("height", 14).attr("fill", "none").attr("stroke", "#777");
svg.append("line").attr("x1", 2036).attr("y1", 500).attr("x2", 2046).attr("y2", 490).attr("stroke", "#d9a066").attr("stroke-width", 3);
svg.append("text").attr("x", 2).attr("y", 510).attr("font-family", "'DejaVu Sans'").attr("font-size", 17).attr("fill", "#9a9a9a").text("\u21C4");
var globe = svg.append("g").attr("transform", "translate(2040,13)");
globe.append("circle").attr("r", 7).attr("fill", "#e6e6e6");
globe.append("circle").attr("cx", -3).attr("cy", -3).attr("r", 2).attr("fill", "#e04040");
globe.append("circle").attr("cx", 3).attr("cy", -3).attr("r", 2).attr("fill", "#40a040");
globe.append("circle").attr("cx", 0).attr("cy", 3).attr("r", 2).attr("fill", "#4060e0");

// titles
svg.append("text").attr("x", 966).attr("y", 133).attr("font-family", FONT).attr("font-size", 49)
    .attr("fill", "#fff").attr("textLength", 568).attr("lengthAdjust", "spacingAndGlyphs").text("US Dollar / Chinese Yuan");
svg.append("text").attr("x", 1061).attr("y", 787).attr("font-family", FONT).attr("font-size", 49)
    .attr("fill", "#fff").attr("textLength", 412).attr("lengthAdjust", "spacingAndGlyphs").text("Gold in US Dollars");
svg.append("text").attr("x", 1046).attr("y", 900).attr("font-family", FONT).attr("font-size", 19)
    .attr("fill", "#8e8e8e").attr("textLength", 436).attr("lengthAdjust", "spacingAndGlyphs")
    .text("Observations of RossClark@ChartsAndMarkets.com");

// red notes
function note(lines, x0, y0) {
    svg.append("g").selectAll("text").data(lines).join("text")
        .attr("x", x0).attr("y", function(d, i){ return y0 + i * 29.5; })
        .attr("font-family", FONT).attr("font-size", 20.5).attr("fill", "#e00000")
        .text(function(d){ return d; });
}
note(usdNote, 1678, 145);
note(goldNote, 1706, 840);

// callouts
var glow = defs.append("filter").attr("id", "glow").attr("x", "-30%").attr("y", "-30%").attr("width", "160%").attr("height", "160%");
glow.append("feGaussianBlur").attr("stdDeviation", 4);

function callout(id, bx, by, bw, bh, b1, b2, tx, ty, lines, base0) {
    var r = 7, p = d3.path();
    p.moveTo(bx + r, by);
    p.lineTo(bx + bw - r, by); p.arcTo(bx + bw, by, bx + bw, by + r, r);
    p.lineTo(bx + bw, by + bh - r); p.arcTo(bx + bw, by + bh, bx + bw - r, by + bh, r);
    p.lineTo(bx + r, by + bh); p.arcTo(bx, by + bh, bx, by + bh - r, r);
    p.lineTo(bx, b2); p.lineTo(tx, ty); p.lineTo(bx, b1);
    p.lineTo(bx, by + r); p.arcTo(bx, by, bx + r, by, r);
    p.closePath();
    var d = p.toString();
    defs.append("clipPath").attr("id", id).append("path").attr("d", d);
    var g = svg.append("g");
    var inner = g.append("g").attr("clip-path", "url(#" + id + ")");
    inner.append("path").attr("d", d).attr("fill", "#fff");
    inner.append("path").attr("d", d).attr("fill", "none").attr("stroke", "#6a6ac4")
        .attr("stroke-width", 20).attr("filter", "url(#glow)");
    g.append("path").attr("d", d).attr("fill", "none").attr("stroke", "#16168a")
        .attr("stroke-width", 3).attr("stroke-linejoin", "round");
    g.selectAll("text").data(lines).join("text")
        .attr("x", bx + bw / 2).attr("y", function(t, i){ return base0 + i * 27.8; })
        .attr("text-anchor", "middle").attr("font-family", "'Liberation Sans', Arial, sans-serif")
        .attr("font-weight", 700).attr("font-size", 25).attr("fill", "#161616")
        .text(function(t){ return t; });
}
callout("c1", 1681, 251, 118, 91, 262, 291, 1631, 221, ["Key", "support", "6.77"], 277);
callout("c2", 1707, 672, 135, 121, 739, 778, 1634, 801, ["Key", "resistance", "$1232"], 712);

</script>
</body>
</html>
